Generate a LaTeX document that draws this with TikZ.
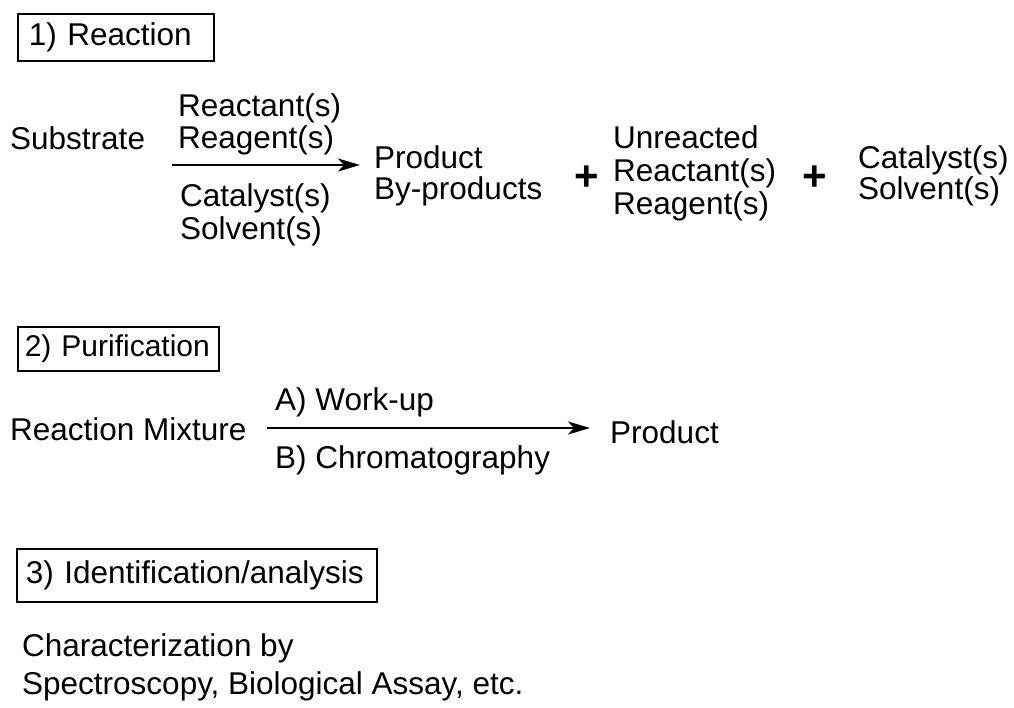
\documentclass[tikz,border=0pt]{standalone}
\usepackage{fontspec}
\setmainfont{Liberation Sans}
\usetikzlibrary{arrows.meta}
\begin{document}
\begin{tikzpicture}[x=1pt,y=-1pt,
  txt/.style={anchor=base west, inner sep=0pt, font=\fontsize{31.5}{36}\selectfont},
  hdr/.style={draw, line width=1.6pt, anchor=north west, inner ysep=0pt, align=left, font=\fontsize{31.5}{36}\selectfont},
  rxn/.style={line width=2.7pt, -{Stealth[length=22pt,width=13pt,inset=6pt]}},
  plus/.style={inner sep=0pt, font=\fontsize{42}{42}\selectfont\bfseries}]
\useasboundingbox (0,0) rectangle (1014,707);
% section headers
\node[hdr, text width=174pt, inner xsep=11pt, minimum height=47pt] (h1) at (17,13) {\mbox{1) Reaction}};
\node[hdr, text width=187pt, inner xsep=7pt, minimum height=44pt, font=\fontsize{30}{36}\selectfont] (h2) at (17,326) {\mbox{2) Purification}};
\node[hdr, text width=342pt, inner xsep=9pt, minimum height=53pt] (h3) at (16,548) {\mbox{3) Identification/analysis}};
% row 1
\node[txt] (sub) at (10,149) {Substrate};
\node[txt] (ra) at (178,116) {Reactant(s)};
\node[txt] (rb) at (178,148) {Reagent(s)};
\node[txt] (rc) at (180,206) {Catalyst(s)};
\node[txt] (rd) at (180,239) {Solvent(s)};
\coordinate (a1s) at (172,165);
\coordinate (a1e) at (360,165);
\draw[rxn] (a1s) -- (a1e);
\node[txt] (p1) at (374,168) {Product};
\node[txt] (p2) at (374,199) {By-products};
\node[plus] (pl1) at (587,178) {+};
\node[txt] (u1) at (613,148) {Unreacted};
\node[txt] (u2) at (613,181) {Reactant(s)};
\node[txt] (u3) at (613,214) {Reagent(s)};
\node[plus] (pl2) at (815,178) {+};
\node[txt] (c1) at (858,168) {Catalyst(s)};
\node[txt] (c2) at (858,199) {Solvent(s)};
% row 2
\node[txt] (mix) at (10,440) {Reaction Mixture};
\node[txt] (wa) at (275,410) {A) Work-up};
\node[txt] (wb) at (275,468) {B) Chromatography};
\coordinate (a2s) at (267,428);
\coordinate (a2e) at (590,428);
\draw[rxn] (a2s) -- (a2e);
\node[txt] (prod) at (610,443) {Product};
% row 3
\node[txt] (ch1) at (22,656) {Characterization by};
\node[txt] (ch2) at (22,694) {Spectroscopy, Biological Assay, etc.};
\end{tikzpicture}
\end{document}
